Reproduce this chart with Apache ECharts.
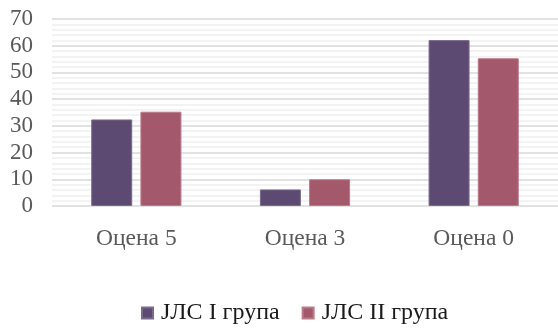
<!DOCTYPE html>
<html>
<head>
<meta charset="utf-8">
<script src="https://cdn.jsdelivr.net/npm/echarts@6/dist/echarts.min.js"></script>
<style>
  html, body { margin: 0; padding: 0; background: #fff; }
  #chart { width: 558px; height: 329px; }
</style>
</head>
<body>
<div id="chart"></div>
<script>
// Оцене по групама ЈЛС
const categories = ['Оцена 5', 'Оцена 3', 'Оцена 0'];
const group1Name = 'ЈЛС I група';
const group2Name = 'ЈЛС II група';
const group1Values = [32.4, 6.2, 62.1];
const group2Values = [35.3, 10.0, 55.3];

const serif = '"Liberation Serif", "Times New Roman", serif';

const chart = echarts.init(document.getElementById('chart'));
chart.setOption({
  animation: false,
  backgroundColor: '#ffffff',
  grid: { left: 52, right: 0, top: 19, bottom: 123, containLabel: false },
  legend: {
    left: 141,
    top: 301,
    padding: 0,
    itemWidth: 11,
    itemHeight: 11,
    itemGap: 22,
    icon: 'rect',
    textStyle: { fontFamily: serif, fontSize: 24, color: '#1a1a1a', padding: [0, 0, 0, 3] },
    data: [group1Name, group2Name]
  },
  xAxis: {
    type: 'category',
    data: categories,
    axisLine: { show: false },
    axisTick: { show: false },
    axisLabel: { fontFamily: serif, fontSize: 23.5, color: '#595959', margin: 21 }
  },
  yAxis: {
    type: 'value',
    min: 0,
    max: 70,
    interval: 10,
    axisLine: { show: false },
    axisTick: { show: false },
    axisLabel: { fontFamily: serif, fontSize: 23, color: '#595959', margin: 19 },
    splitLine: { lineStyle: { color: '#d9d9d9', width: 1.5 } },
    minorTick: { show: false, splitNumber: 5 },
    minorSplitLine: { show: true, lineStyle: { color: '#efefef', width: 1.5 } }
  },
  series: [
    {
      name: group1Name,
      type: 'bar',
      data: group1Values,
      barWidth: 41,
      barGap: '20%',
      itemStyle: { color: '#5d4a72', borderColor: '#7a6a8c', borderWidth: 1 }
    },
    {
      name: group2Name,
      type: 'bar',
      data: group2Values,
      barWidth: 41,
      barGap: '20%',
      itemStyle: { color: '#a3586b', borderColor: '#bb7a8a', borderWidth: 1 }
    }
  ]
});
</script>
</body>
</html>
